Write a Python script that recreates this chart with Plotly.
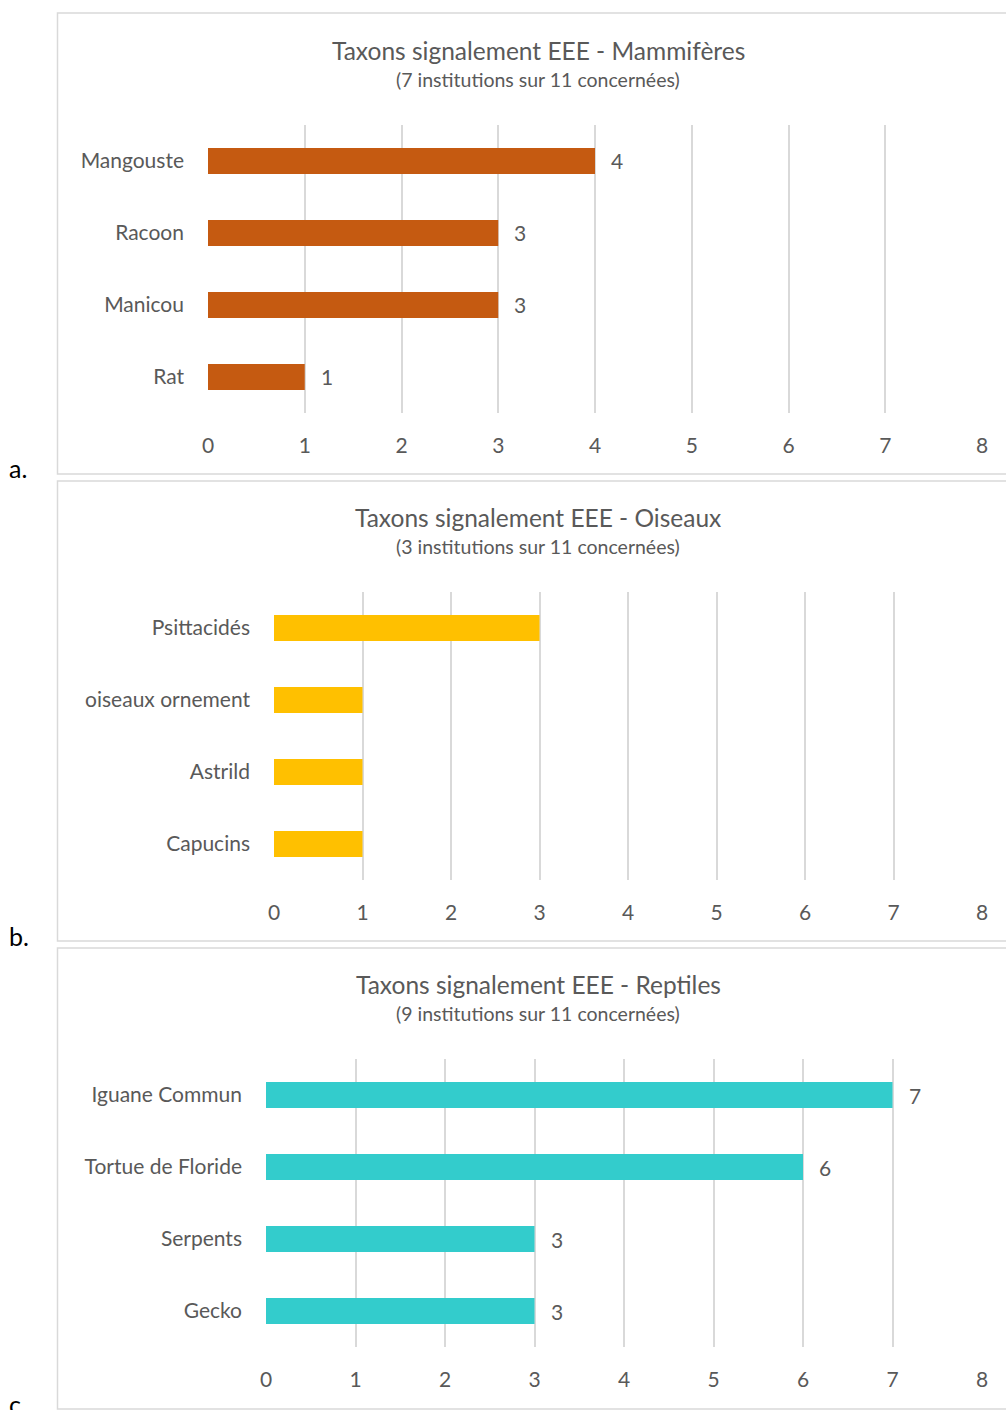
import plotly.graph_objects as go

W, H = 1006, 1410

# ---------------- data ----------------
mam_cats = ["Mangouste", "Racoon", "Manicou", "Rat"]
mam_vals = [4, 3, 3, 1]

ois_cats = ["Psittacidés", "oiseaux ornement", "Astrild", "Capucins"]
ois_vals = [3, 1, 1, 1]

rep_cats = ["Iguane Commun", "Tortue de Floride", "Serpents", "Gecko"]
rep_vals = [7, 6, 3, 3]

titles = ["Taxons signalement EEE - Mammifères",
          "Taxons signalement EEE - Oiseaux",
          "Taxons signalement EEE - Reptiles"]
subtitles = ["(7 institutions sur 11 concernées)",
             "(3 institutions sur 11 concernées)",
             "(9 institutions sur 11 concernées)"]
panel_letters = ["a.", "b.", "c."]
x_ticks = [0, 1, 2, 3, 4, 5, 6, 7, 8]

# ---------------- style / layout ----------------
FONT = "Lato"
GREY = "#595959"
GRID = "#D9D9D9"
colors = ["#C55A11", "#FFC000", "#33CCCC"]
show_labels = [True, False, True]

panels = [
    # (cats, vals, plot x0 px, grid top px, grid bottom px, box top, box bottom, title y, subtitle y, letter y)
    (mam_cats, mam_vals, 208, 125, 413, 13, 474, 50, 79, 468),
    (ois_cats, ois_vals, 274, 592, 880, 481, 941, 517, 546, 936),
    (rep_cats, rep_vals, 266, 1059, 1347, 948, 1409, 984, 1013, 1404),
]
X_RIGHT = 982

def py(p):
    return 1 - p / H

fig = go.Figure()
shapes = []
annotations = []

for i, (cats, vals, x0, gt, gb, bt, bb, ty, sy, ly) in enumerate(panels):
    n = i + 1
    xa = "x" if n == 1 else f"x{n}"
    ya = "y" if n == 1 else f"y{n}"
    fig.add_trace(go.Bar(
        x=vals, y=cats, orientation="h",
        marker=dict(color=colors[i], line=dict(width=0)),
        width=0.36, xaxis=xa, yaxis=ya, showlegend=False,
        hoverinfo="x+y",
    ))
    xkey = "xaxis" if n == 1 else f"xaxis{n}"
    ykey = "yaxis" if n == 1 else f"yaxis{n}"
    fig.layout[xkey] = dict(
        domain=[x0 / W, X_RIGHT / W], range=[0, 8], anchor=ya,
        tickvals=x_ticks, ticktext=[str(t) for t in x_ticks],
        showgrid=True, gridcolor=GRID, gridwidth=1.5,
        zeroline=False, showline=False, ticks="",
        tickfont=dict(family=FONT, size=21, color=GREY),
        ticklabelstandoff=18, fixedrange=True, automargin=False,
    )
    fig.layout[ykey] = dict(
        domain=[py(gb), py(gt)], anchor=xa,
        categoryorder="array", categoryarray=cats,
        autorange="reversed", showgrid=False, zeroline=False,
        showline=False, ticks="",
        tickfont=dict(family=FONT, size=21, color=GREY),
        ticklabelstandoff=23, fixedrange=True, automargin=False,
    )
    # panel border
    shapes.append(dict(type="rect", xref="paper", yref="paper",
                       x0=57.5 / W, x1=1030 / W, y0=py(bb), y1=py(bt),
                       line=dict(color=GRID, width=1.5), layer="below"))
    # titles
    annotations.append(dict(text=titles[i], xref="paper", yref="paper",
                            x=538 / W, y=py(ty), showarrow=False,
                            xanchor="center", yanchor="middle",
                            font=dict(family=FONT, size=24.5, color=GREY)))
    annotations.append(dict(text=subtitles[i], xref="paper", yref="paper",
                            x=538 / W, y=py(sy), showarrow=False,
                            xanchor="center", yanchor="middle",
                            font=dict(family=FONT, size=19.5, color=GREY)))
    annotations.append(dict(text=panel_letters[i], xref="paper", yref="paper",
                            x=7 / W, y=py(ly), showarrow=False,
                            xanchor="left", yanchor="middle",
                            font=dict(family=FONT, size=25, color="#000000")))
    if show_labels[i]:
        for c, v in zip(cats, vals):
            annotations.append(dict(text=str(v), x=v, y=c, xref=xa, yref=ya,
                                    showarrow=False, xanchor="left",
                                    yanchor="middle", xshift=14,
                                    font=dict(family=FONT, size=21, color=GREY)))

fig.update_layout(
    width=W, height=H, margin=dict(l=0, r=0, t=0, b=0, pad=0),
    paper_bgcolor="white", plot_bgcolor="white",
    shapes=shapes, annotations=annotations, bargap=0.64,
)

fig.write_html("out.html", config={"displayModeBar": False})
